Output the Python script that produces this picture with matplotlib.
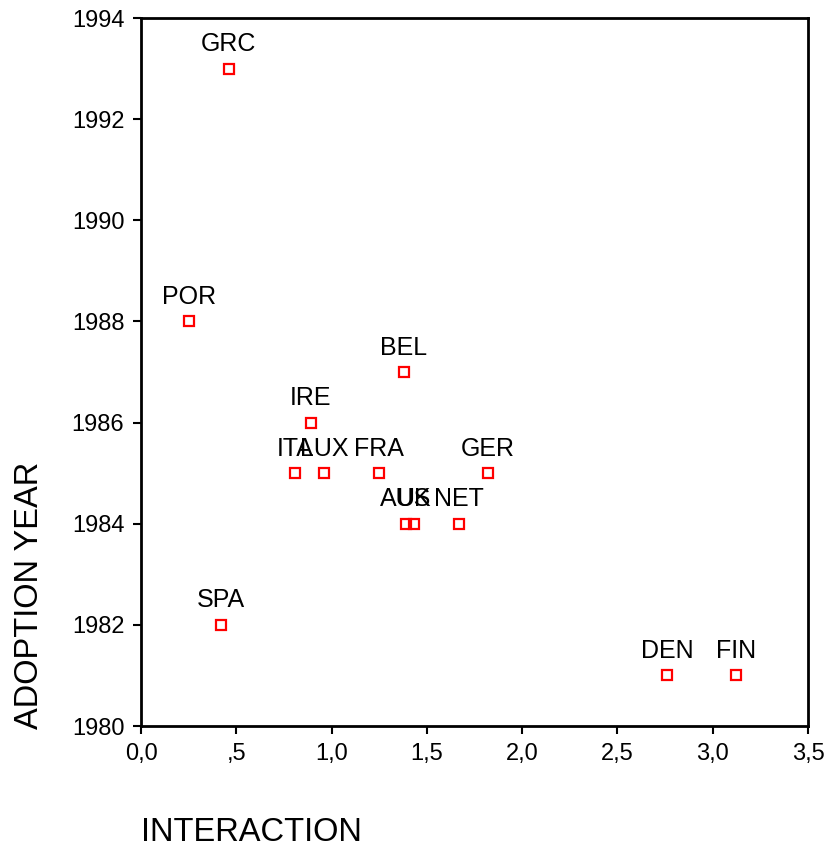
import matplotlib.pyplot as plt

# Data
countries = ['GRC', 'POR', 'BEL', 'IRE', 'ITA', 'LUX', 'FRA', 'GER',
             'AUS', 'UK', 'NET', 'SPA', 'DEN', 'FIN']
interaction = [0.46, 0.25, 1.38, 0.89, 0.81, 0.96, 1.25, 1.82,
               1.39, 1.43, 1.67, 0.42, 2.76, 3.12]
adoption_year = [1993, 1988, 1987, 1986, 1985, 1985, 1985, 1985,
                 1984, 1984, 1984, 1982, 1981, 1981]

x_ticks = [0.0, 0.5, 1.0, 1.5, 2.0, 2.5, 3.0, 3.5]
x_tick_labels = ['0,0', ',5', '1,0', '1,5', '2,0', '2,5', '3,0', '3,5']
y_ticks = [1980, 1982, 1984, 1986, 1988, 1990, 1992, 1994]

plt.rcParams['font.family'] = ['Liberation Sans', 'DejaVu Sans']

fig = plt.figure(figsize=(8.26, 8.47), dpi=100)
ax = fig.add_axes([141/826, 1 - 726/847, 667/826, 708/847])

ax.plot(interaction, adoption_year, linestyle='none', marker='s',
        markersize=7, markerfacecolor='none', markeredgecolor='#ff0000',
        markeredgewidth=1.6)

for name, x, y in zip(countries, interaction, adoption_year):
    ax.annotate(name, (x, y), xytext=(0, 9), textcoords='offset points',
                ha='center', va='bottom', fontsize=18)

ax.set_xlim(0, 3.5)
ax.set_ylim(1980, 1994)
ax.set_xticks(x_ticks)
ax.set_xticklabels(x_tick_labels)
ax.set_yticks(y_ticks)
ax.tick_params(direction='out', length=6, width=1.5, labelsize=17, pad=6)
for s in ax.spines.values():
    s.set_linewidth(2)

fig.text(141/826, 1 - 832/847, 'INTERACTION', fontsize=23.5, ha='left', va='center')
fig.text(30/826, 1 - 595/847, 'ADOPTION YEAR', fontsize=23.5, rotation=90,
         ha='center', va='center')

fig.savefig('out.png', dpi=100)
